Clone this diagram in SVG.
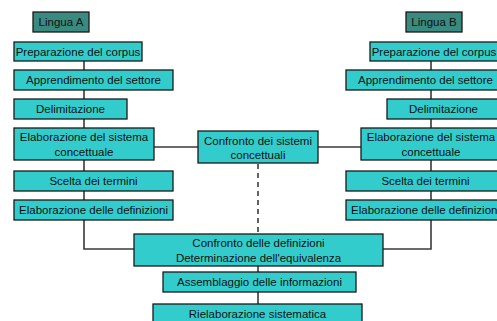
<svg xmlns="http://www.w3.org/2000/svg" width="497" height="321" viewBox="0 0 497 321">
<style>
.b{fill:#33cccc;stroke:#1a1a1a;stroke-width:1.3}
.h{fill:#3a8a80;stroke:#1a1a1a;stroke-width:1.3}
text{font-family:"Liberation Sans",Arial,sans-serif;font-size:11.5px;fill:#111;text-anchor:middle}
.c{fill:none;stroke:#3a3a3a;stroke-width:1.6}
.d{fill:none;stroke:#222;stroke-width:1.4;stroke-dasharray:5,4}
</style>
<rect width="497" height="321" fill="#fff"/>
<g id="connectors">
<path class="c" d="M84 61V70M84 90V99M84 119V128M84 160V171M84 191V200M84 220V249H135"/>
<path class="c" d="M431 61V70M431 90V99M431 119V128M431 160V171M431 191V200M431 220V249H383"/>
<path class="c" d="M154 147H198M318 147H361"/>
<path class="d" d="M258 164V234"/>
<path class="c" d="M258 266V272M258 292V304"/>
</g>
<g id="linguaA"><rect class="h" x="33" y="12" width="56" height="20"/><text x="61" y="26">Lingua A</text></g>
<g id="linguaB"><rect class="h" x="406" y="12" width="56" height="20"/><text x="434" y="26">Lingua B</text></g>
<g id="prepA"><rect class="b" x="14" y="42" width="128" height="19"/><text x="78" y="56">Preparazione del corpus</text></g>
<g id="apprA"><rect class="b" x="14" y="70" width="159" height="20"/><text x="93.5" y="84">Apprendimento del settore</text></g>
<g id="delimA"><rect class="b" x="14" y="99" width="113" height="20"/><text x="70.5" y="113">Delimitazione</text></g>
<g id="elabSistA"><rect class="b" x="14" y="128" width="140" height="32"/><text x="84" y="141">Elaborazione del sistema</text><text x="84" y="156">concettuale</text></g>
<g id="sceltaA"><rect class="b" x="14" y="171" width="159" height="20"/><text x="93.5" y="185">Scelta dei termini</text></g>
<g id="elabDefA"><rect class="b" x="14" y="200" width="159" height="20"/><text x="93.5" y="214">Elaborazione delle definizioni</text></g>
<g id="prepB"><rect class="b" x="370" y="42" width="128" height="19"/><text x="434" y="56">Preparazione del corpus</text></g>
<g id="apprB"><rect class="b" x="346" y="70" width="159" height="20"/><text x="425.5" y="84">Apprendimento del settore</text></g>
<g id="delimB"><rect class="b" x="387" y="99" width="113" height="20"/><text x="443.5" y="113">Delimitazione</text></g>
<g id="elabSistB"><rect class="b" x="361" y="128" width="140" height="32"/><text x="431" y="141">Elaborazione del sistema</text><text x="431" y="156">concettuale</text></g>
<g id="sceltaB"><rect class="b" x="346" y="171" width="159" height="20"/><text x="425.5" y="185">Scelta dei termini</text></g>
<g id="elabDefB"><rect class="b" x="346" y="200" width="159" height="20"/><text x="425.5" y="214">Elaborazione delle definizioni</text></g>
<g id="confrSist"><rect class="b" x="198" y="131" width="120" height="32"/><text x="258" y="145">Confronto dei sistemi</text><text x="258" y="159">concettuali</text></g>
<g id="confrDef"><rect class="b" x="134" y="234" width="249" height="32"/><text x="258.5" y="247">Confronto delle definizioni</text><text x="258.5" y="262">Determinazione dell'equivalenza</text></g>
<g id="assembl"><rect class="b" x="163" y="272" width="193" height="20"/><text x="259.5" y="286">Assemblaggio delle informazioni</text></g>
<g id="rielab"><rect class="b" x="153" y="304" width="209" height="26"/><text x="257.5" y="318">Rielaborazione sistematica</text></g>
</svg>
